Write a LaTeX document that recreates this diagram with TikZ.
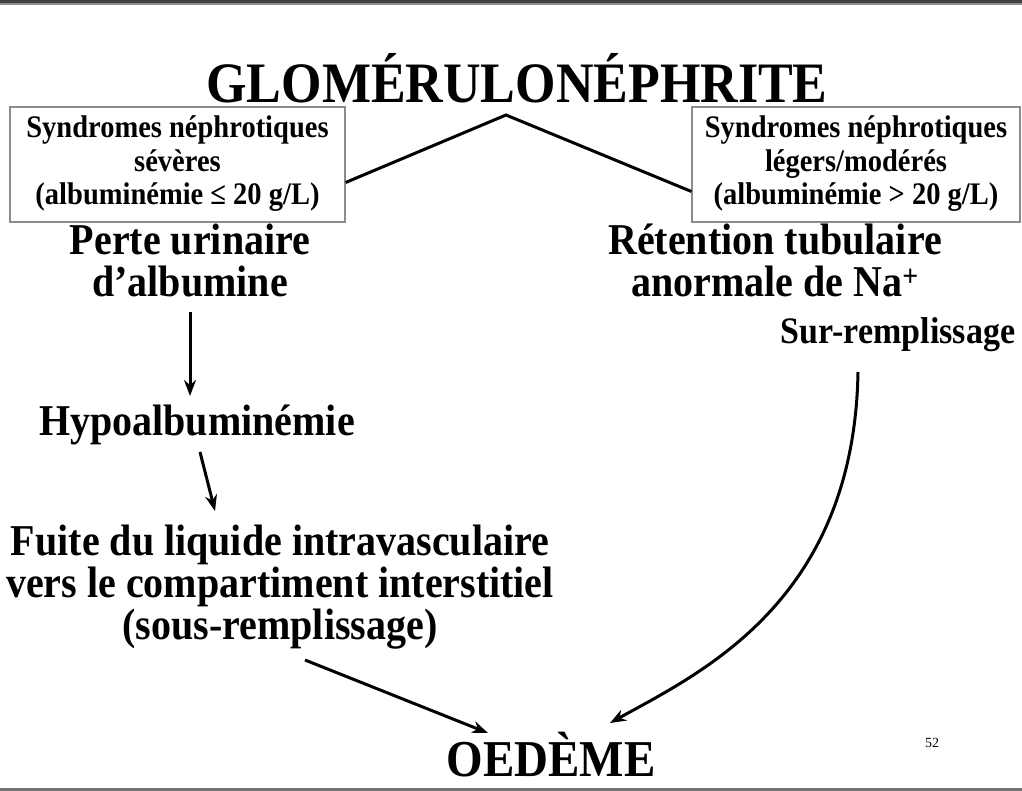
\documentclass[tikz,border=0pt]{standalone}
\usepackage{fontspec}
\usepackage{graphicx}
\setmainfont{Liberation Serif}
\usetikzlibrary{arrows.meta,calc}
\newcommand{\vtall}[1]{\scalebox{1}[1.1]{\renewcommand{\arraystretch}{1}\begin{tabular}{@{}c@{}}#1\end{tabular}}}
\tikzset{
  txt/.style={align=center,inner sep=0pt,text=black},
  big/.style={txt,font=\fontsize{40}{34.5}\selectfont\bfseries},
  boxtxt/.style={txt,draw=black!45,line width=1.2pt,font=\fontsize{28.5}{30.5}\selectfont\bfseries,minimum height=115pt},
  link/.style={line width=3pt,black},
  arr/.style={line width=3pt,black,-{Stealth[length=16pt,width=12pt]}},
}
\begin{document}
\begin{tikzpicture}[x=1pt,y=-1pt]
\useasboundingbox (0,0) rectangle (1022,791);
\fill[white] (0,0) rectangle (1022,791);
% frame lines
\fill[black!75] (0,0) rectangle (1022,3.5);
\fill[black!45] (0,3.5) rectangle (1022,5.5);
\fill[black!55] (0,787.5) rectangle (1022,791);

\node[txt,font=\fontsize{52}{52}\selectfont\bfseries,anchor=base] (title) at (517,103) {\scalebox{1}[1.1]{GLOMÉRULONÉPHRITE}};

\node[boxtxt,minimum width=335pt] (lbox) at (177.5,164.5) {\raisebox{-3pt}{\vtall{Syndromes néphrotiques\\sévères\\(albuminémie ≤ 20 g/L)}}};
\node[boxtxt,minimum width=328pt] (rbox) at (856,164.5) {\raisebox{-3pt}{\vtall{Syndromes néphrotiques\\légers/modérés\\(albuminémie > 20 g/L)}}};

\coordinate (peak) at (506,115);
\draw[link,line join=miter] ([yshift=-18pt]lbox.east) -- (peak) -- ([yshift=-27pt]rbox.west);

\node[big] (perte) at (190,266) {\vtall{Perte urinaire\\d’albumine}};
\node[big] (reten) at (775,266) {\vtall{Rétention tubulaire\\anormale de Na\textsuperscript{+}}};
\node[txt,font=\fontsize{34}{34}\selectfont\bfseries] (sur) at (898,335) {\scalebox{1}[1.1]{Sur-remplissage}};
\node[big] (hypo) at (197,425) {\scalebox{1}[1.1]{Hypoalbuminémie}};
\node[big] (fuite) at (280,588) {\vtall{Fuite du liquide intravasculaire\\vers le compartiment interstitiel\\(sous-remplissage)}};
\node[txt,font=\fontsize{47}{47}\selectfont\bfseries,anchor=base] (oed) at (551,776) {\scalebox{1}[1.1]{OEDÈME}};
\node[txt,font=\fontsize{14}{14}\selectfont] (num) at (932,743) {52};

\draw[arr] (perte.south |- 0,312) -- (perte.south |- 0,396);
\draw[arr] ([xshift=3pt]hypo.south |- 0,452) -- (215,511);
\draw[arr] (305,660) -- (488,733);
\draw[arr] ([xshift=-40pt]sur.south |- 0,372) .. controls +(-4,230) and +(90,-50) .. (610,723);
\end{tikzpicture}
\end{document}
